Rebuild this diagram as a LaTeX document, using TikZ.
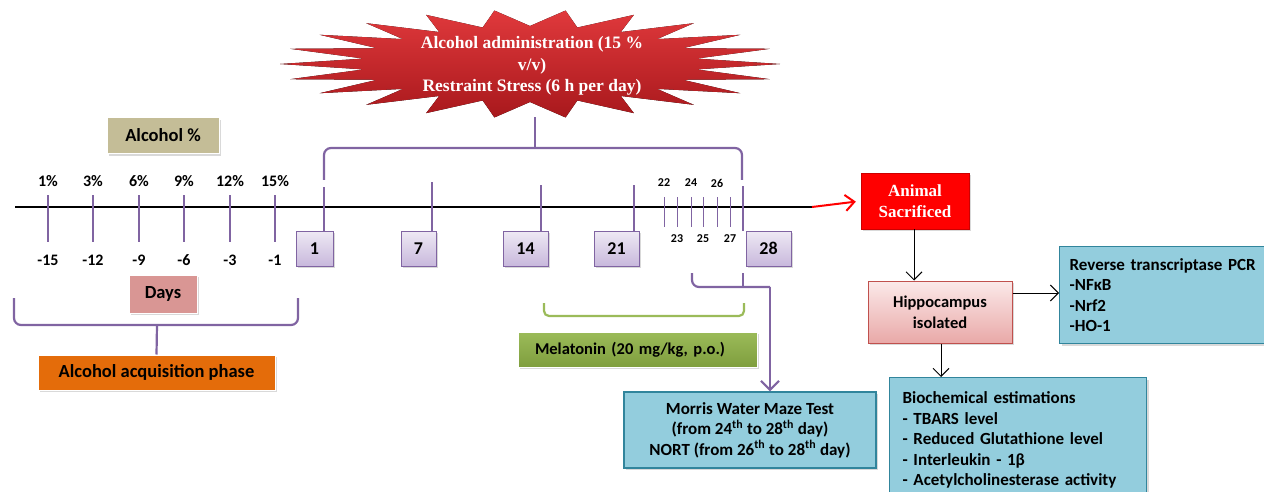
\documentclass[tikz,border=0pt]{standalone}
\usepackage{fontspec}
\setmainfont{Carlito}
\newfontfamily\burstfont{Liberation Serif}
\usetikzlibrary{arrows.meta,shadows}

\definecolor{purp}{HTML}{8064A2}
\definecolor{lavtop}{HTML}{EEE9F4}
\definecolor{lavbot}{HTML}{C8B8DC}
\definecolor{alctan}{HTML}{C4BD97}
\definecolor{rose}{HTML}{D99694}
\definecolor{orng}{HTML}{E46C0A}
\definecolor{olive}{HTML}{9BBB59}
\definecolor{olivedk}{HTML}{7F9E3E}
\definecolor{aqua}{HTML}{93CDDD}
\definecolor{aquadk}{HTML}{31859C}
\definecolor{bursttop}{HTML}{E0393C}
\definecolor{burstbot}{HTML}{A8181C}
\definecolor{pinktop}{HTML}{FBE9E9}
\definecolor{pinkbot}{HTML}{E9A9A8}
\definecolor{pinkdk}{HTML}{C0504D}

\tikzset{
  daytick/.style={purp, line width=1.3pt},
  brace/.style={purp, line width=2.2pt, rounded corners=7pt},
  daybox/.style={rectangle, draw=purp, line width=1pt, top color=lavtop, bottom color=lavbot, minimum height=35pt, font=\bfseries\fontsize{18}{20}\selectfont, drop shadow={opacity=0.3}},
  pctlbl/.style={font=\bfseries\fontsize{16}{18}\selectfont},
  minilbl/.style={font=\bfseries\fontsize{12}{13}\selectfont},
  tagbox/.style={rectangle, draw=white, line width=1pt, minimum height=36pt, font=\bfseries\fontsize{18.5}{20}\selectfont, drop shadow={opacity=0.3}},
  infobox/.style={rectangle, draw=aquadk, line width=1.2pt, fill=aqua, font=\bfseries\fontsize{17}{20.5}\selectfont, drop shadow={opacity=0.3}},
  link/.style={line width=1pt, -{Straight Barb[length=8pt, width=16pt]}},
}

\begin{document}
\begin{tikzpicture}[x=1pt, y=-1pt]
\useasboundingbox (0,0) rectangle (1264,492);

% starburst
\fill[top color=bursttop, bottom color=burstbot] plot[variable=\t, samples at={0,...,43}] ({530+ifthenelse(mod(\t,2)==0,250,168)*cos(\t*360/44)}, {64+ifthenelse(mod(\t,2)==0,54,38)*sin(\t*360/44)}) -- cycle;
\node[align=center, text=white, font=\burstfont\bfseries\fontsize{17.5}{21.5}\selectfont] (ST) at (532,66) {Alcohol administration (15 \%\\v/v)\\Restraint Stress (6 h per day)};
\coordinate (SB) at (535,117);

% time line
\draw[line width=2.6pt] (15,207) coordinate (L0) -- (812,207) coordinate (L1);

\node[tagbox, fill=alctan, minimum width=112pt] (AP) at (163,135.5) {Alcohol \%};
\node[tagbox, fill=rose, minimum width=68pt, minimum height=38pt] (DY) at (163,294) {Days};
\node[tagbox, fill=orng, minimum width=237pt, minimum height=35pt] (AQ) at (156.5,372.5) {Alcohol acquisition phase};

\foreach \xp/\pc/\dd [count=\i] in {48/1\%/-15, 93/3\%/-12, 139/6\%/-9, 184/9\%/-6, 230/12\%/-3, 275/15\%/-1} {
  \draw[daytick] (\xp,195) -- (\xp,242);
  \node[pctlbl] (pc\i) at (\xp,181) {\pc};
  \node[pctlbl] (dd\i) at (\xp,260) {\dd};
}

\node[daybox, minimum width=37pt] (D1) at (314.5,248.5) {1};
\node[daybox, minimum width=35pt] (D7) at (418.5,248.5) {7};
\node[daybox, minimum width=45pt] (D14) at (525.5,248.5) {14};
\node[daybox, minimum width=45pt] (D21) at (616.5,248.5) {21};
\node[daybox, minimum width=45pt] (D28) at (768.5,248.5) {28};

\draw[daytick] (324,187) -- (324,231);
\draw[daytick] (432,182) -- (432,231);
\draw[daytick] (541,185) -- (541,231);
\draw[daytick] (634,185) -- (634,231);
\draw[daytick] (743,186) -- (743,231);

\foreach \xp [count=\i from 22] in {664,677,691,703,717,730} {
  \draw[daytick, line width=1pt] (\xp,197) -- (\xp,227);
  \ifodd\i
    \node[minilbl] (n\i) at (\xp,239) {\i};
  \else
    \node[minilbl] (n\i) at (\xp,183) {\i};
  \fi
}

% brackets
\draw[brace] (324,180) |- (742,148) -- (742,180);
\draw[brace] (535,148) -- (SB);
\draw[brace] (14,298) |- (298,325) -- (298,298);
\draw[brace] (157,325) -- (AQ.north);
\draw[olive, line width=2.2pt, rounded corners=5pt] (544,303) |- (744,316) -- (744,303);

\node[tagbox, top color=olive, bottom color=olivedk, minimum width=239pt, minimum height=35pt, text width=205pt, align=left, inner xsep=17pt, font=\bfseries\fontsize{16.5}{18}\selectfont] (ML) at (637.5,349.5) {Melatonin (20 mg/kg, p.o.)};

\node[infobox, minimum width=252pt, minimum height=76pt, align=center] (MW) at (750,430) {Morris Water Maze Test\\(from 24\textsuperscript{th} to 28\textsuperscript{th} day)\\NORT (from 26\textsuperscript{th} to 28\textsuperscript{th} day)};
\coordinate (MA) at (770,287);
\draw[brace] (692,273) |- (MA);
\draw[brace] (743,273) -- (743,287);
\draw[purp, line width=2.2pt, -{Straight Barb[length=9pt, width=18pt]}] (MA) -- (MA |- MW.north);

% after treatment
\node[rectangle, draw=red!80!black, fill=red, minimum width=108pt, minimum height=56pt, align=center, text=white, font=\burstfont\bfseries\fontsize{17}{21}\selectfont, drop shadow={opacity=0.3}] (AS) at (915,201) {Animal\\Sacrificed};
\draw[red, line width=2pt, shorten >=5pt, -{Straight Barb[length=9pt, width=16pt]}] (L1) -- (AS.west);

\node[rectangle, draw=pinkdk, line width=1pt, top color=pinktop, bottom color=pinkbot, minimum width=144pt, minimum height=62pt, align=center, font=\bfseries\fontsize{16.5}{21}\selectfont, drop shadow={opacity=0.3}] (HI) at (940,312) {Hippocampus\\isolated};
\node[infobox, anchor=north west, minimum width=215pt, minimum height=97pt, text width=195pt, align=left, inner xsep=9pt] (RT) at (1059,246) {Reverse transcriptase PCR\\-NFκB\\-Nrf2\\-HO-1};
\node[infobox, anchor=north west, minimum width=251pt, minimum height=125pt, text width=231pt, align=left, inner xsep=13pt] (BE) at (889,377) {Biochemical estimations\\- TBARS level\\- Reduced Glutathione level\\- Interleukin - 1β\\- Acetylcholinesterase activity};

\draw[link] (AS.south -| 914,0) -- (HI.north -| 914,0);
\draw[link] (HI.east |- 0,293) -- (RT.west |- 0,293);
\draw[link] (HI.south -| 941,0) -- (BE.north -| 941,0);
\end{tikzpicture}
\end{document}
